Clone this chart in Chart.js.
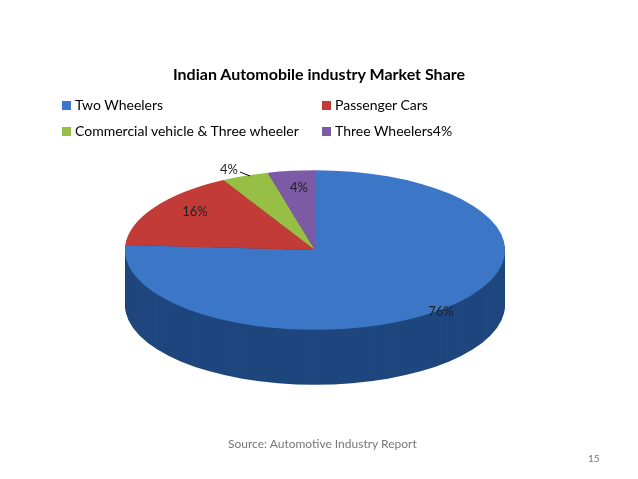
<!DOCTYPE html>
<html><head><meta charset="utf-8">
<script src="https://cdn.jsdelivr.net/npm/chart.js@4/dist/chart.umd.min.js"></script>
<style>
body{margin:0;background:#fff;font-family:Lato,"Open Sans",sans-serif;}
#wrap{position:relative;width:638px;height:479px;}
canvas{position:absolute;left:0;top:0;}
.t{position:absolute;white-space:nowrap;color:#000;}
.sw{display:inline-block;width:9px;height:9px;margin-right:4px;vertical-align:0px;}
</style></head><body>
<div id="wrap">
<canvas id="c" width="638" height="479"></canvas>
<div class="t" style="left:0;width:638px;text-align:center;top:64px;font-weight:bold;font-size:16px;">Indian Automobile industry Market Share</div>
<div id="leg"></div>
<div class="t" style="left:228px;top:436px;font-size:12px;color:#777;">Source: Automotive Industry Report</div>
<div class="t" style="left:588px;top:452px;font-size:10px;color:#777;">15</div>
</div>
<script>
const categories = ["Two Wheelers","Passenger Cars","Commercial vehicle & Three wheeler","Three Wheelers4%"];
const values = [76,16,4,4];
const labels = ["76%","16%","4%","4%"];
const topColors = ["#3B77C6","#C23B36","#97BE45","#7D5AA6"];
const sideColors = ["#1F477E","#7E2220","#5E7A2A","#4E3770"];
const legendPos = [[62,96],[322,96],[62,122],[322,122]];
const labelPos = [[441,312],[195,212],[229,170],[299,188]];

const leg = document.getElementById('leg');
categories.forEach((c,i)=>{
  const d=document.createElement('div');d.className='t';
  d.style.left=legendPos[i][0]+'px';d.style.top=legendPos[i][1]+'px';d.style.fontSize='14px';
  d.innerHTML='<span class="sw" style="background:'+topColors[i]+'"></span>'+c.replace('&','&amp;');
  leg.appendChild(d);
});

const K = 0.42, DEPTH = 55;
const pie3d = {
  id:'pie3d',
  beforeDatasetsDraw(chart){
    const ctx=chart.ctx, meta=chart.getDatasetMeta(0);
    ctx.save();
    const a0=meta.data[0];
    const cx=a0.x, cy=a0.y;
    for(let d=DEPTH; d>0; d--){
      meta.data.forEach((arc,i)=>{
        const p=arc.getProps(['startAngle','endAngle','outerRadius']);
        ctx.save();
        ctx.translate(cx,cy+d);ctx.scale(1,K);
        ctx.beginPath();ctx.moveTo(0,0);
        ctx.arc(0,0,p.outerRadius,p.startAngle,p.endAngle);
        ctx.closePath();ctx.fillStyle=sideColors[i];ctx.fill();
        ctx.restore();
      });
    }
    ctx.translate(cx,cy);ctx.scale(1,K);ctx.translate(-cx,-cy);
  },
  afterDatasetsDraw(chart){
    const ctx=chart.ctx;
    ctx.restore();
    ctx.save();
    ctx.font='13px Lato, "Open Sans", sans-serif';ctx.fillStyle='#222';ctx.textAlign='center';ctx.textBaseline='middle';
    labels.forEach((l,i)=>ctx.fillText(l,labelPos[i][0],labelPos[i][1]));
    ctx.strokeStyle='#000';ctx.lineWidth=1;
    ctx.beginPath();ctx.moveTo(240,172);ctx.lineTo(250,176);ctx.stroke();
    ctx.restore();
  }
};

new Chart(document.getElementById('c'),{
  type:'pie',
  data:{labels:categories,datasets:[{data:values,backgroundColor:topColors,borderWidth:0,clip:false}]},
  options:{responsive:false,animation:false,
    layout:{padding:{left:125,right:133,top:60,bottom:39}},
    plugins:{legend:{display:false},tooltip:{enabled:false}}},
  plugins:[pie3d]
});
</script>
</body></html>
